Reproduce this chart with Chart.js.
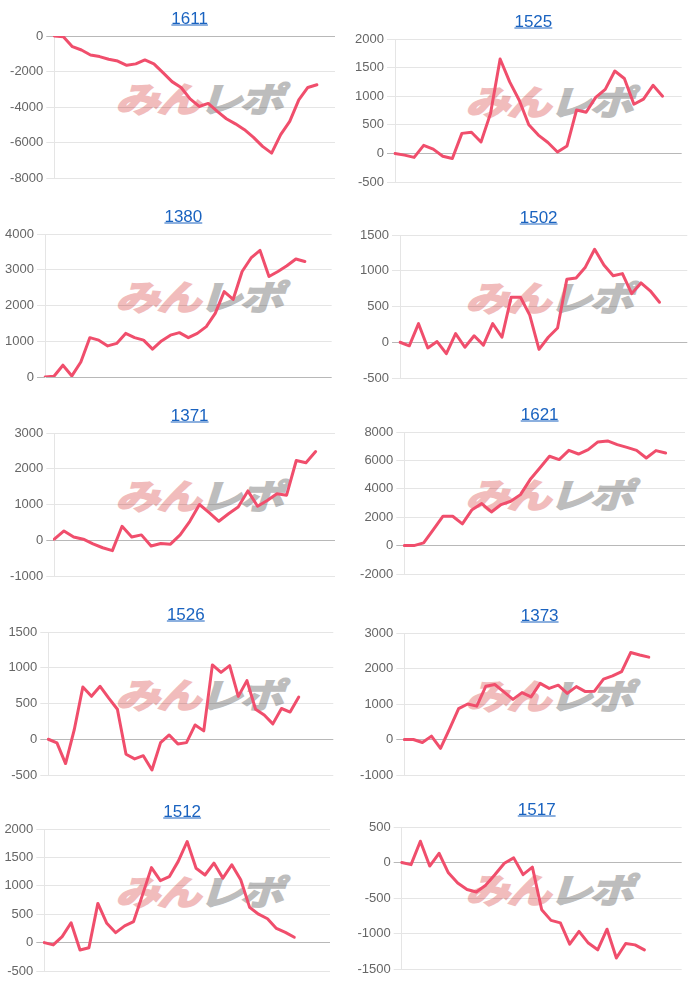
<!DOCTYPE html>
<html>
<head>
<meta charset="utf-8">
<script src="https://cdn.jsdelivr.net/npm/chart.js@4/dist/chart.umd.min.js"></script>
<style>
  html, body { margin: 0; padding: 0; background: #fff; }
  #wrap { position: relative; width: 700px; height: 989px; overflow: hidden; font-family: "Liberation Sans", Arial, Helvetica, sans-serif; }
  .title { position: absolute; z-index: 3; transform: translate(-50%, -50%); font-size: 17px; color: #1a63c0; text-decoration: underline; white-space: nowrap; line-height: 1; }
  .wm { position: absolute; z-index: 0; transform: translate(-50%, -50%) scale(1.15, 0.9) skewX(-14deg); font-family: "Noto Sans CJK JP", sans-serif; font-weight: 700; font-size: 38px; line-height: 1; white-space: nowrap; letter-spacing: -2px; }
  .wm .a { color: #f1bcbc; -webkit-text-stroke: 2.5px #f1bcbc; }
  .wm .b { color: #bdbdbd; -webkit-text-stroke: 2px #bdbdbd; }
  canvas { position: absolute; z-index: 1; }
</style>
</head>
<body>
<div id="wrap"></div>
<script>
// ---- data ----
const titles = ['1611', '1525', '1380', '1502', '1371', '1621', '1526', '1373', '1512', '1517'];
const categories = ['1','2','3','4','5','6','7','8','9','10','11','12','13','14','15','16','17','18','19','20','21','22','23','24','25','26','27','28','29','30','31','32','33','34'];
const labelCounts = [32, 31, 33, 32, 30, 30, 34, 32, 33, 31];

const s1611 = [0, -40, -600, -790, -1070, -1160, -1310, -1410, -1650, -1570, -1350, -1570, -2060, -2570, -2900, -3540, -3970, -3800, -4250, -4660, -4950, -5280, -5710, -6220, -6600, -5560, -4810, -3600, -2900, -2750];
const s1525 = [0, -30, -70, 140, 75, -50, -90, 350, 370, 200, 700, 1650, 1250, 930, 500, 320, 190, 25, 130, 760, 720, 980, 1120, 1440, 1310, 860, 950, 1190, 1000];
const s1380 = [0, 20, 330, 30, 420, 1100, 1030, 870, 940, 1220, 1100, 1030, 780, 1010, 1170, 1240, 1100, 1220, 1410, 1780, 2390, 2170, 2950, 3330, 3540, 2810, 2950, 3110, 3300, 3230];
const s1502 = [0, -50, 260, -80, 10, -160, 120, -70, 90, -40, 260, 70, 630, 630, 380, -100, 70, 200, 880, 900, 1050, 1300, 1080, 930, 960, 680, 830, 720, 560];
const s1371 = [30, 260, 90, 30, -100, -210, -290, 390, 90, 150, -160, -90, -110, 150, 530, 1000, 770, 530, 740, 930, 1380, 950, 1110, 1300, 1260, 2230, 2170, 2480];
const s1621 = [0, 0, 190, 1130, 2070, 2070, 1530, 2530, 2960, 2370, 2890, 3120, 3590, 4650, 5470, 6290, 6060, 6710, 6450, 6760, 7300, 7370, 7110, 6920, 6710, 6170, 6690, 6520];
const s1526 = [0, -50, -340, 130, 730, 600, 740, 575, 420, -210, -275, -230, -430, -47, 60, -65, -47, 200, 117, 1040, 935, 1030, 600, 820, 420, 340, 215, 430, 380, 590];
const s1373 = [0, 0, -85, 95, -250, 300, 870, 1000, 940, 1500, 1550, 1340, 1130, 1320, 1200, 1580, 1440, 1530, 1300, 1490, 1350, 1360, 1700, 1790, 1910, 2450, 2380, 2320];
const s1512 = [0, -40, 105, 350, -130, -90, 690, 340, 175, 295, 370, 840, 1320, 1090, 1160, 1430, 1780, 1310, 1190, 1400, 1135, 1370, 1105, 620, 500, 420, 250, 180, 95];
const s1517 = [0, -30, 300, -50, 130, -145, -290, -380, -415, -320, -170, -10, 65, -170, -65, -665, -815, -850, -1150, -970, -1135, -1230, -940, -1345, -1140, -1160, -1230];
const seriesList = [s1611, s1525, s1380, s1502, s1371, s1621, s1526, s1373, s1512, s1517];

const yMin  = [-8000, -500,    0, -500, -1000, -2000, -500, -1000, -500, -1500];
const yMax  = [    0, 2000, 4000, 1500,  3000,  8000, 1500,  3000, 2000,   500];
const yStep = [ 2000,  500, 1000,  500,  1000,  2000,  500,  1000,  500,   500];

// ---- layout (page pixels: plot area left, top, right, bottom) ----
const plotBoxes = [
  [54.3, 36, 335, 178.3], [395, 39.3, 681.7, 182],
  [45, 234.3, 331.7, 376.7], [400, 235, 687.3, 378.3],
  [54.3, 433.3, 335, 576], [404.3, 432.3, 685, 574.3],
  [48.3, 632.3, 333.3, 775], [404.3, 633.3, 685, 775],
  [44.3, 829.3, 330, 971], [401.7, 827.3, 681.7, 969]
];

const LINE_COLOR = '#f04e6c';
const wrap = document.getElementById('wrap');

titles.forEach((t, i) => {
  const col = i % 2;
  const colX = col * 350;
  const [L, T, R, B] = plotBoxes[i];
  const padTop = 30, padBottom = 14;
  const cTop = Math.round(T) - padTop;
  const cH = Math.round(B) - Math.round(T) + padTop + padBottom;

  // title
  const a = document.createElement('div');
  a.className = 'title';
  a.textContent = t;
  a.style.left = ((L + R) / 2 - 5) + 'px';
  a.style.top = (T - 18.5) + 'px';
  wrap.appendChild(a);

  // watermark
  const wm = document.createElement('div');
  wm.className = 'wm';
  wm.innerHTML = '<span class="a">みん</span><span class="b">レポ</span>';
  wm.style.left = (colX + 203) + 'px';
  wm.style.top = (T + 62) + 'px';
  wrap.appendChild(wm);

  const cv = document.createElement('canvas');
  cv.width = 350; cv.height = cH;
  cv.style.left = colX + 'px';
  cv.style.top = cTop + 'px';
  cv.style.width = '350px'; cv.style.height = cH + 'px';
  wrap.appendChild(cv);

  const yWidth = L - colX;
  new Chart(cv, {
    type: 'line',
    data: {
      labels: categories.slice(0, labelCounts[i]),
      datasets: [{
        data: seriesList[i],
        borderColor: LINE_COLOR,
        backgroundColor: LINE_COLOR,
        borderWidth: 3,
        pointRadius: 0,
        pointHoverRadius: 0,
        tension: 0,
        fill: false,
        borderJoinStyle: 'round',
        borderCapStyle: 'round'
      }]
    },
    options: {
      responsive: false,
      animation: false,
      events: [],
      layout: { padding: { top: padTop, bottom: padBottom, left: 0, right: 350 - (R - colX) } },
      plugins: { legend: { display: false }, tooltip: { enabled: false }, title: { display: false } },
      scales: {
        x: { display: false },
        y: {
          min: yMin[i], max: yMax[i],
          ticks: {
            stepSize: yStep[i],
            color: '#666',
            padding: 3,
            callback: (v) => String(v),
            font: { family: '"Liberation Sans", Arial, Helvetica, sans-serif', size: 13 }
          },
          grid: {
            color: (ctx) => (ctx.tick && ctx.tick.value === 0) ? 'rgba(0,0,0,0.28)' : 'rgba(0,0,0,0.1)',
            tickLength: 8,
            lineWidth: 1
          },
          border: { color: 'rgba(0,0,0,0.1)' },
          afterFit: (s) => { s.width = yWidth; s.paddingTop = 0; s.paddingBottom = 0; }
        }
      }
    }
  });
});
</script>
</body>
</html>
